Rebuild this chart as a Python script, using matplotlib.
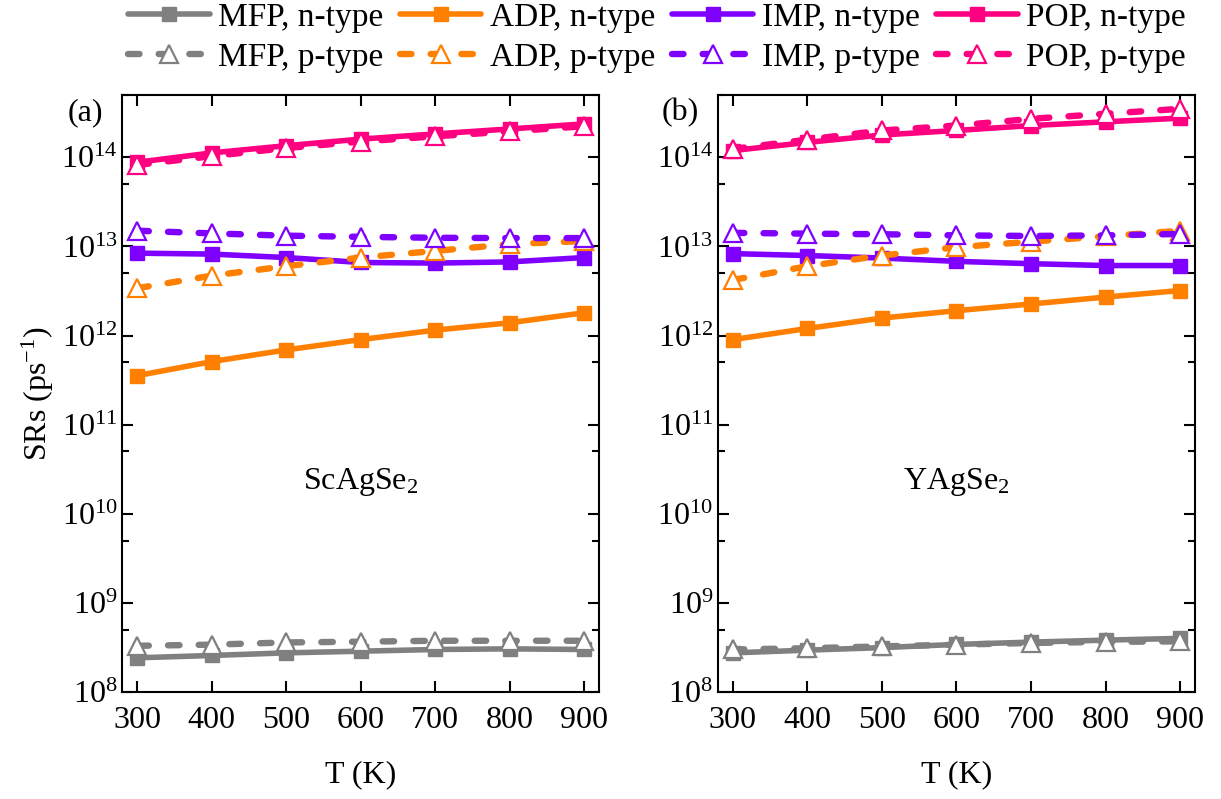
import matplotlib
matplotlib.use('Agg')
import matplotlib.pyplot as plt
from matplotlib.ticker import LogLocator, NullFormatter

plt.rcParams['font.family'] = 'Liberation Serif'
plt.rcParams['mathtext.fontset'] = 'custom'
plt.rcParams['mathtext.rm'] = 'Liberation Serif'
plt.rcParams['mathtext.it'] = 'Liberation Serif:italic'
plt.rcParams['font.size'] = 23

# temperatures (K)
T = [300, 400, 500, 600, 700, 800, 900]

# scattering rates for ScAgSe2
sc_mfp_n = [2.42e8, 2.57e8, 2.75e8, 2.87e8, 3.0e8, 3.05e8, 3.0e8]
sc_mfp_p = [3.3e8, 3.4e8, 3.6e8, 3.67e8, 3.76e8, 3.76e8, 3.76e8]
sc_adp_n = [3.55e11, 5.1e11, 6.9e11, 9.0e11, 1.15e12, 1.39e12, 1.8e12]
sc_adp_p = [3.4e12, 4.7e12, 6.0e12, 7.5e12, 8.9e12, 1.06e13, 1.15e13]
sc_imp_n = [8.4e12, 8.2e12, 7.5e12, 6.6e12, 6.5e12, 6.7e12, 7.5e12]
sc_imp_p = [1.5e13, 1.4e13, 1.32e13, 1.28e13, 1.25e13, 1.24e13, 1.24e13]
sc_pop_n = [8.8e13, 1.12e14, 1.35e14, 1.6e14, 1.83e14, 2.08e14, 2.37e14]
sc_pop_p = [8.2e13, 1.03e14, 1.27e14, 1.5e14, 1.72e14, 1.95e14, 2.23e14]

# scattering rates for YAgSe2
y_mfp_n = [2.75e8, 2.95e8, 3.15e8, 3.42e8, 3.63e8, 3.82e8, 4.0e8]
y_mfp_p = [3.0e8, 3.1e8, 3.25e8, 3.4e8, 3.55e8, 3.65e8, 3.7e8]
y_adp_n = [9.0e11, 1.2e12, 1.57e12, 1.9e12, 2.26e12, 2.7e12, 3.2e12]
y_adp_p = [4.2e12, 6.0e12, 7.9e12, 9.8e12, 1.13e13, 1.3e13, 1.5e13]
y_imp_n = [8.3e12, 7.9e12, 7.4e12, 6.8e12, 6.4e12, 6.1e12, 6.1e12]
y_imp_p = [1.42e13, 1.39e13, 1.37e13, 1.33e13, 1.31e13, 1.33e13, 1.38e13]
y_pop_n = [1.19e14, 1.47e14, 1.78e14, 2.0e14, 2.27e14, 2.5e14, 2.75e14]
y_pop_p = [1.24e14, 1.58e14, 2.0e14, 2.27e14, 2.7e14, 3.08e14, 3.5e14]

mechanisms = ['MFP', 'ADP', 'IMP', 'POP']
colors = ['#808080', '#ff8000', '#8000ff', '#ff0080']

panels = [
    ('(a)', 'ScAgSe$_2$', [(sc_mfp_n, sc_mfp_p), (sc_adp_n, sc_adp_p),
                           (sc_imp_n, sc_imp_p), (sc_pop_n, sc_pop_p)]),
    ('(b)', 'YAgSe$_2$', [(y_mfp_n, y_mfp_p), (y_adp_n, y_adp_p),
                          (y_imp_n, y_imp_p), (y_pop_n, y_pop_p)]),
]

fig = plt.figure(figsize=(12.21, 7.99), dpi=100)
ax_pos = [[0.1003, 0.1339, 0.3903, 0.7472], [0.588, 0.1339, 0.3907, 0.7472]]

handles = []
for i, (tag, name, series) in enumerate(panels):
    ax = fig.add_axes(ax_pos[i])
    for j, (n_vals, p_vals) in enumerate(series):
        c = colors[j]
        ln, = ax.plot(T, n_vals, '-', color=c, lw=4.0, marker='s', ms=10,
                      solid_capstyle='round', zorder=3)
        lp, = ax.plot(T, p_vals, '--', color=c, lw=4.6, marker='^', ms=12.5,
                      mfc='white', mew=1.6, dashes=(1.8, 3.0),
                      dash_capstyle='round', zorder=4)
        if i == 0:
            handles.append((ln, mechanisms[j] + ', n-type'))
            handles.append((lp, mechanisms[j] + ', p-type'))
    ax.set_yscale('log')
    ax.set_ylim(1e8, 5e14)
    ax.set_xlim(280, 920)
    ax.set_xticks(T)
    ax.yaxis.set_major_locator(LogLocator(base=10, numticks=20))
    ax.yaxis.set_minor_locator(LogLocator(base=10, subs=(5.0,), numticks=20))
    ax.yaxis.set_minor_formatter(NullFormatter())
    ax.tick_params(which='both', direction='in', top=True, right=True,
                   width=1.5, labelsize=23)
    ax.tick_params(which='major', length=8)
    ax.tick_params(which='minor', length=5)
    ax.tick_params(axis='x', pad=10)
    for s in ax.spines.values():
        s.set_linewidth(1.5)
    ax.set_xlabel('T (K)', fontsize=23, labelpad=18)
    if i == 0:
        ax.set_ylabel('SRs (ps$^{-1}$)', fontsize=23, labelpad=4)
    ax.text(600, 2.3e10, name, fontsize=23, ha='center', va='center')
    ax.text(-0.04, 0.97, tag, transform=ax.transAxes, fontsize=23,
            ha='right', va='center')

fig.legend([h for h, _ in handles], [l for _, l in handles],
           loc='upper center', bbox_to_anchor=(0.538, 1.035), ncol=4,
           frameon=False, fontsize=24, handlelength=2.45, handletextpad=0.25,
           columnspacing=0.5, labelspacing=0.3)

fig.savefig('out.png', dpi=100)
